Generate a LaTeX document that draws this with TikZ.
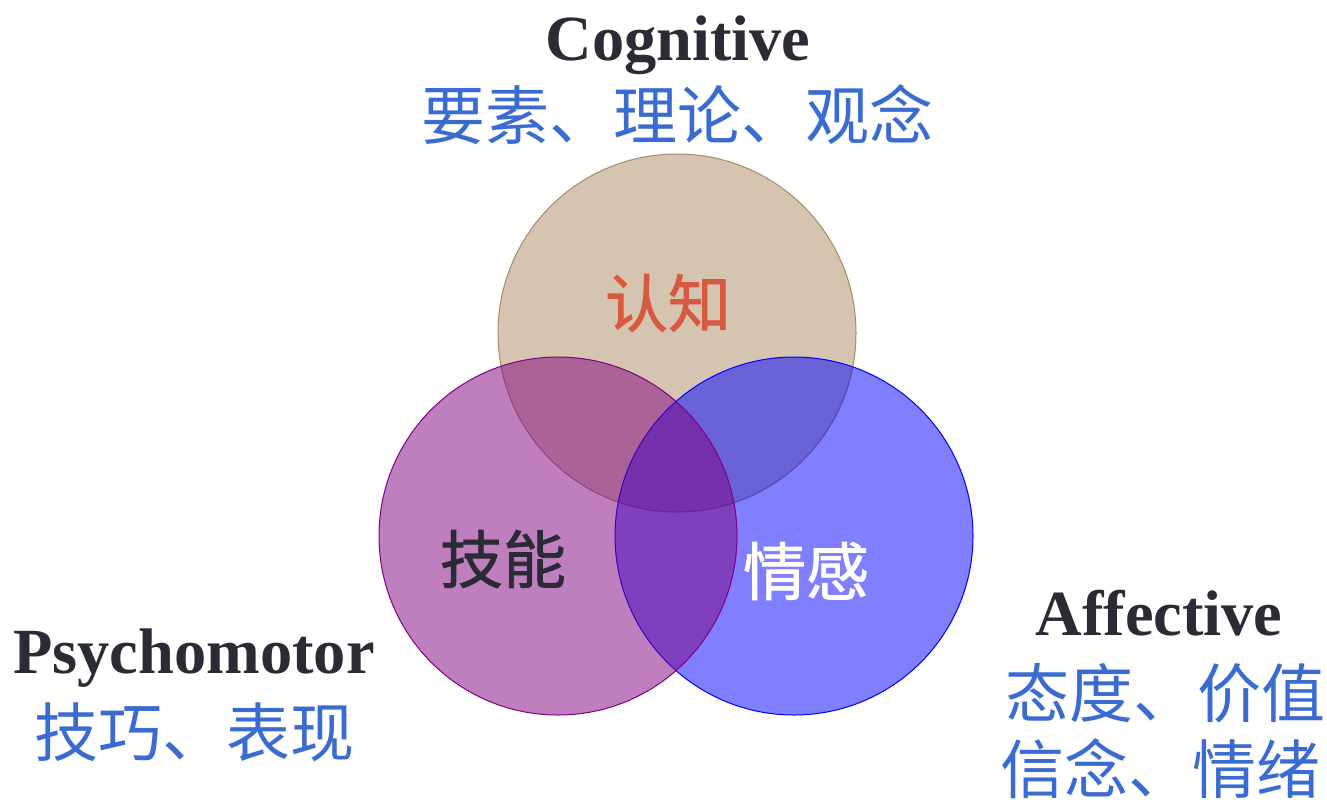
\documentclass[tikz,border=0pt]{standalone}
\usepackage{fontspec}
\setmainfont{Liberation Serif}
\newfontfamily\cjk{Noto Sans CJK SC}
\newfontfamily\cjkb[FakeBold=1.2]{Noto Sans CJK SC}
\definecolor{tantop}{HTML}{D5C5B0}
\definecolor{tanedge}{HTML}{A88A66}
\definecolor{labelblue}{HTML}{3A6BD0}
\definecolor{darktext}{HTML}{2B2B35}
\definecolor{redtext}{HTML}{D55A40}
\definecolor{purp}{HTML}{800080}
\begin{document}
\begin{tikzpicture}[x=0.5pt,y=-0.5pt,
  title/.style={font=\fontsize{32.2}{36}\selectfont\bfseries, text=darktext, anchor=base, inner sep=0pt},
  sub/.style={font=\cjk\fontsize{32}{38}\selectfont, text=labelblue, inner sep=0pt, align=center},
  inner/.style={font=\cjkb\fontsize{31.5}{36}\selectfont, inner sep=0pt},
  ring/.style={line width=0.5pt}]
\useasboundingbox (0,0) rectangle (1327,799);
\fill[white] (0,0) rectangle (1327,799);
% circles
\draw[ring, draw=tanedge, fill=tantop] (677,333) circle[radius=179];
\draw[ring, draw=blue, fill=blue, fill opacity=0.5] (794,536) circle[radius=179];
\draw[ring, draw=purp, fill=purp, fill opacity=0.5] (558,536) circle[radius=179];
% inner labels
\node[inner, text=redtext] (cog) at (668,303) {认知};
\node[inner, text=darktext] (psy) at (503,559) {技能};
\node[inner, text=white] (aff) at (806,571) {情感};
% titles
\node[title] (cogT) at (678,60) {Cognitive};
\node[sub] (cogS) at (677,115) {要素、理论、观念};
\node[title] (psyT) at (194,673) {Psychomotor};
\node[sub] (psyS) at (194,732) {技巧、表现};
\node[title] (affT) at (1159,635) {Affective};
\node[sub] (affS1) at (1165,693) {态度、价值};
\node[sub] (affS2) at (1160,769) {信念、情绪};
\end{tikzpicture}
\end{document}
